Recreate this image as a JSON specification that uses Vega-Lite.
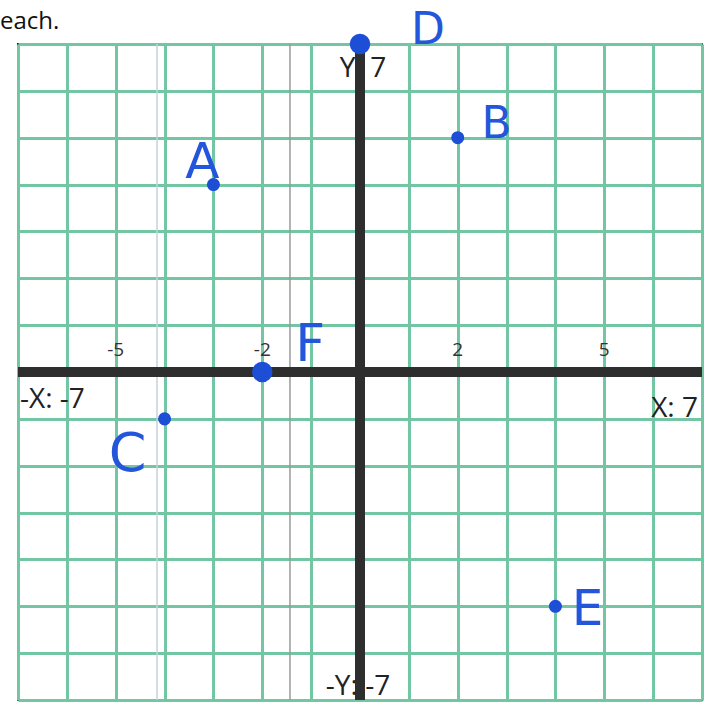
{
  "$schema": "https://vega.github.io/schema/vega-lite/v6.json",
  "autosize": {"type": "none"},
  "width": 684,
  "height": 656,
  "padding": {"left": 18, "top": 44, "right": 6, "bottom": 8},
  "background": "white",
  "config": {
    "view": {"stroke": "#111111", "strokeWidth": 2},
    "axis": {
      "grid": true,
      "gridColor": "#72c6a3",
      "gridWidth": 3,
      "gridOpacity": 1,
      "labels": false,
      "ticks": false,
      "domain": false,
      "title": null,
      "values": [-6, -5, -4, -3, -2, -1, 1, 2, 3, 4, 5, 6]
    }
  },
  "datasets": {
    "caption": [{"x": -7, "y": 7, "t": "each."}],
    "points": [
      {"label": "A", "x": -3, "y": 4},
      {"label": "B", "x": 2, "y": 5},
      {"label": "C", "x": -4, "y": -1},
      {"label": "D", "x": 0, "y": 7},
      {"label": "E", "x": 4, "y": -5},
      {"label": "F", "x": -2, "y": 0}
    ],
    "ticks": [
      {"v": -5, "t": "-5"},
      {"v": -2, "t": "-2"},
      {"v": 2, "t": "2"},
      {"v": 5, "t": "5"}
    ],
    "axisnames": [
      {"name": "xmin", "x": -7, "y": 0, "t": "-X: -7"},
      {"name": "xmax", "x": 7, "y": 0, "t": "X: 7"},
      {"name": "ymax", "x": 0, "y": 7, "t": "Y:   7"},
      {"name": "ymin", "x": 0, "y": -7, "t": "-Y:   -7"}
    ],
    "origin": [{"v": 0}],
    "scan": [
      {"x": -4.155, "kind": "light"},
      {"x": -1.433, "kind": "dark"}
    ]
  },
  "layer": [
    {
      "data": {"name": "scan"},
      "mark": {"type": "rule", "strokeWidth": 1.5},
      "encoding": {
        "x": {"field": "x", "type": "quantitative", "scale": {"domain": [-7, 7], "nice": false, "zero": false}},
        "color": {"field": "kind", "type": "nominal", "scale": {"domain": ["light", "dark"], "range": ["#c4d2da", "#9a9a9a"]}, "legend": null}
      }
    },
    {
      "data": {"name": "caption"},
      "mark": {"type": "text", "align": "left", "baseline": "alphabetic", "dx": -18, "dy": -15, "font": "Open Sans", "fontSize": 24, "color": "#111111"},
      "encoding": {
        "x": {"field": "x", "type": "quantitative", "scale": {"domain": [-7, 7], "nice": false, "zero": false}},
        "y": {"field": "y", "type": "quantitative", "scale": {"domain": [-7, 7], "nice": false, "zero": false}},
        "text": {"field": "t"}
      }
    },
    {
      "data": {"name": "axisnames"},
      "transform": [{"filter": "datum.name == 'xmin'"}],
      "mark": {"type": "text", "align": "left", "baseline": "middle", "dx": 2, "dy": 28, "font": "Open Sans", "fontSize": 28, "color": "#222222"},
      "encoding": {
        "x": {"field": "x", "type": "quantitative"},
        "y": {"field": "y", "type": "quantitative"},
        "text": {"field": "t"}
      }
    },
    {
      "data": {"name": "axisnames"},
      "transform": [{"filter": "datum.name == 'xmax'"}],
      "mark": {"type": "text", "align": "right", "baseline": "middle", "dx": -4, "dy": 37, "font": "Open Sans", "fontSize": 28, "color": "#222222"},
      "encoding": {
        "x": {"field": "x", "type": "quantitative"},
        "y": {"field": "y", "type": "quantitative"},
        "text": {"field": "t"}
      }
    },
    {
      "data": {"name": "axisnames"},
      "transform": [{"filter": "datum.name == 'ymax'"}],
      "mark": {"type": "text", "align": "center", "baseline": "middle", "dx": 3, "dy": 25, "font": "Open Sans", "fontSize": 28, "color": "#222222"},
      "encoding": {
        "x": {"field": "x", "type": "quantitative"},
        "y": {"field": "y", "type": "quantitative"},
        "text": {"field": "t"}
      }
    },
    {
      "data": {"name": "axisnames"},
      "transform": [{"filter": "datum.name == 'ymin'"}],
      "mark": {"type": "text", "align": "center", "baseline": "middle", "dx": -2, "dy": -13, "font": "Open Sans", "fontSize": 28, "color": "#222222"},
      "encoding": {
        "x": {"field": "x", "type": "quantitative"},
        "y": {"field": "y", "type": "quantitative"},
        "text": {"field": "t"}
      }
    },
    {
      "data": {"name": "origin"},
      "mark": {"type": "rule", "color": "#2e2e2e", "strokeWidth": 10},
      "encoding": {
        "x": {"field": "v", "type": "quantitative"}
      }
    },
    {
      "data": {"name": "origin"},
      "mark": {"type": "rule", "color": "#2e2e2e", "strokeWidth": 10},
      "encoding": {
        "y": {"field": "v", "type": "quantitative"}
      }
    },
    {
      "data": {"name": "ticks"},
      "mark": {"type": "text", "align": "center", "baseline": "middle", "dy": -22, "font": "Open Sans", "fontSize": 19, "color": "#333333"},
      "encoding": {
        "x": {"field": "v", "type": "quantitative"},
        "y": {"datum": 0, "type": "quantitative"},
        "text": {"field": "t"}
      }
    },
    {
      "data": {"name": "points"},
      "mark": {"type": "point", "filled": true, "opacity": 1, "color": "#1d4ed6"},
      "encoding": {
        "x": {"field": "x", "type": "quantitative"},
        "y": {"field": "y", "type": "quantitative"},
        "size": {"condition": {"test": "datum.label == 'D' || datum.label == 'F'", "value": 420}, "value": 170}
      }
    },
    {
      "data": {"name": "points"},
      "transform": [{"filter": "datum.label == 'A'"}],
      "mark": {"type": "text", "align": "center", "baseline": "middle", "dx": -11, "dy": -22, "font": "DejaVu Sans", "fontSize": 50, "color": "#2456dc"},
      "encoding": {"x": {"field": "x", "type": "quantitative"}, "y": {"field": "y", "type": "quantitative"}, "text": {"field": "label"}}
    },
    {
      "data": {"name": "points"},
      "transform": [{"filter": "datum.label == 'B'"}],
      "mark": {"type": "text", "align": "center", "baseline": "middle", "dx": 39, "dy": -13, "font": "DejaVu Sans", "fontSize": 44, "color": "#2456dc"},
      "encoding": {"x": {"field": "x", "type": "quantitative"}, "y": {"field": "y", "type": "quantitative"}, "text": {"field": "label"}}
    },
    {
      "data": {"name": "points"},
      "transform": [{"filter": "datum.label == 'C'"}],
      "mark": {"type": "text", "align": "center", "baseline": "middle", "dx": -37, "dy": 36, "font": "DejaVu Sans", "fontSize": 54, "color": "#2456dc"},
      "encoding": {"x": {"field": "x", "type": "quantitative"}, "y": {"field": "y", "type": "quantitative"}, "text": {"field": "label"}}
    },
    {
      "data": {"name": "points"},
      "transform": [{"filter": "datum.label == 'D'"}],
      "mark": {"type": "text", "align": "center", "baseline": "middle", "dx": 68, "dy": -13, "font": "DejaVu Sans", "fontSize": 44, "color": "#2456dc"},
      "encoding": {"x": {"field": "x", "type": "quantitative"}, "y": {"field": "y", "type": "quantitative"}, "text": {"field": "label"}}
    },
    {
      "data": {"name": "points"},
      "transform": [{"filter": "datum.label == 'E'"}],
      "mark": {"type": "text", "align": "center", "baseline": "middle", "dx": 32, "dy": 4, "font": "DejaVu Sans", "fontSize": 50, "color": "#2456dc"},
      "encoding": {"x": {"field": "x", "type": "quantitative"}, "y": {"field": "y", "type": "quantitative"}, "text": {"field": "label"}}
    },
    {
      "data": {"name": "points"},
      "transform": [{"filter": "datum.label == 'F'"}],
      "mark": {"type": "text", "align": "center", "baseline": "middle", "dx": 48, "dy": -27, "font": "DejaVu Sans", "fontSize": 52, "color": "#2456dc"},
      "encoding": {"x": {"field": "x", "type": "quantitative"}, "y": {"field": "y", "type": "quantitative"}, "text": {"field": "label"}}
    }
  ],
  "resolve": {"scale": {"x": "shared", "y": "shared"}}
}
